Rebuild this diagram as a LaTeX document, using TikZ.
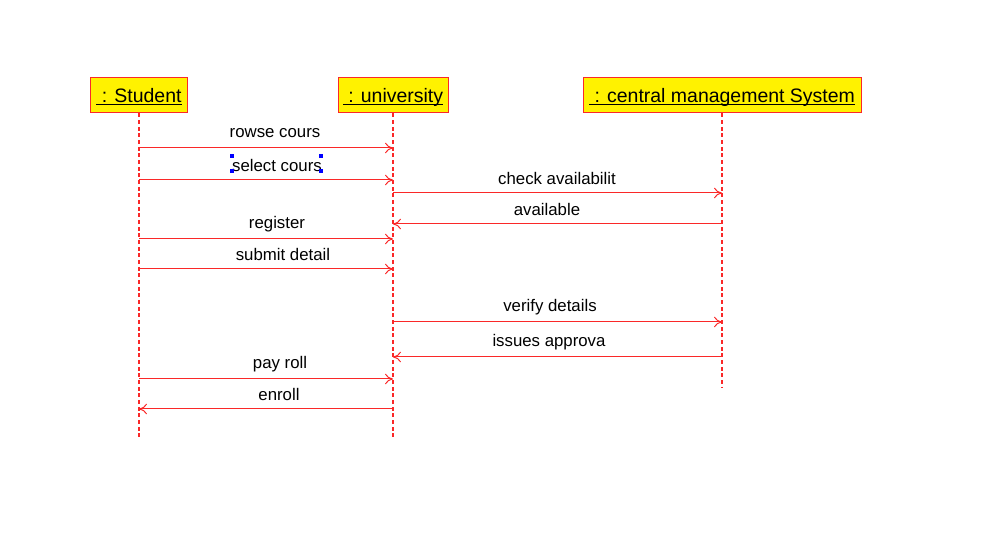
\documentclass[tikz,border=0pt]{standalone}
\usepackage{fontspec}
\setmainfont{Liberation Sans}
\usetikzlibrary{arrows.meta}
\definecolor{linered}{RGB}{250,40,40}
\newcommand{\objname}[1]{\underline{\smash{#1}}}
\tikzset{
  objbox/.style={draw=linered, fill=yellow, line width=0.75pt, minimum height=26.25pt, inner sep=0pt, text height=10.5pt, text depth=0pt, font=\fontsize{14.6}{16}\selectfont},
  lifeline/.style={draw=linered, line width=0.9pt, dash pattern=on 3pt off 2pt},
  msg/.style={draw=linered, line width=0.75pt, -{To[length=6pt,width=8pt]}},
  msglabel/.style={font=\fontsize{12.6}{14}\selectfont},
  handle/.style={fill=blue, minimum size=3.5pt, inner sep=0pt}
}
\begin{document}
\begin{tikzpicture}[x=0.75pt,y=-0.75pt]
    \useasboundingbox (0,0) rectangle (996,541);

    % Objetos
    \node[objbox, minimum width=72.75pt] (stu) at (139,95.5) {\objname{\ : Student}};
    \node[objbox, minimum width=82.5pt] (uni) at (393,95.5) {\objname{\ : university}};
    \node[objbox, minimum width=208.5pt] (cms) at (722,95.5) {\objname{\ : central management System}};

    % Lineas de vida
    \coordinate (stuend) at (stu.south |- 0,440);
    \coordinate (uniend) at (uni.south |- 0,440);
    \coordinate (cmsend) at (cms.south |- 0,387);
    \draw[lifeline] (stu.south) -- (stuend);
    \draw[lifeline] (uni.south) -- (uniend);
    \draw[lifeline] (cms.south) -- (cmsend);

    % Mensajes
    \foreach \y/\a/\b/\lx/\txt in {148/stu/uni/275/rowse cours, 180/stu/uni/277/select cours,
        193/uni/cms/557/check availabilit, 224/cms/uni/547/available,
        239/stu/uni/277/register, 269/stu/uni/283/submit detail,
        322/uni/cms/550/verify details, 357/cms/uni/549/issues approva,
        379/stu/uni/280/pay roll, 409/uni/stu/279/enroll}
      \draw[msg] (\a.south |- 0,\y) -- (\b.south |- 0,\y)
        node[msglabel] at (\lx,\y-15) {\txt};

    % Marcas de seleccion
    \foreach \hx/\hy in {232/156, 321/156, 232/171, 321/171}
      \node[handle] at (\hx,\hy) {};
\end{tikzpicture}
\end{document}
